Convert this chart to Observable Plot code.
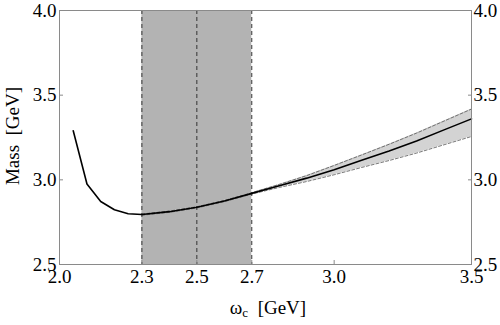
<!DOCTYPE html>
<html><head><meta charset="utf-8">
<script src="https://cdn.jsdelivr.net/npm/d3@7"></script>
<script src="https://cdn.jsdelivr.net/npm/@observablehq/plot@0.6"></script>
<style>html,body{margin:0;padding:0;background:#fff}</style>
</head><body><div id="chart"></div>
<script>
// Central curve
const omega = [2.05, 2.1, 2.15, 2.2, 2.25, 2.3, 2.4, 2.5, 2.6, 2.7, 2.8, 2.9, 3.0, 3.1, 3.2, 3.3, 3.4, 3.5];
const mass  = [3.29, 2.975, 2.872, 2.823, 2.80, 2.795, 2.812, 2.838, 2.875, 2.92, 2.965, 3.01, 3.06, 3.115, 3.17, 3.23, 3.295, 3.36];
// Uncertainty band
const bandOmega = [2.3, 2.4, 2.5, 2.6, 2.7, 2.8, 2.9, 3.0, 3.1, 3.2, 3.3, 3.4, 3.5];
const bandUpper = [2.799, 2.816, 2.842, 2.879, 2.924, 2.973, 3.025, 3.085, 3.147, 3.21, 3.276, 3.347, 3.418];
const bandLower = [2.791, 2.808, 2.834, 2.871, 2.916, 2.955, 2.99, 3.03, 3.073, 3.114, 3.158, 3.207, 3.256];
// Working window
const windowEdges = [2.3, 2.7];
const windowLines = [2.3, 2.5, 2.7];
// Axes
const xTicks = [2.0, 2.3, 2.5, 2.7, 3.0, 3.5];
const yTicks = [2.5, 3.0, 3.5, 4.0];
const xDomain = [2.0, 3.5];
const yDomain = [2.5, 4.0];
const xLabelMain = "ω";
const xLabelSub = "c";
const xLabelUnit = "\u00a0\u00a0[GeV]";
const yLabel = "Mass\u00a0\u00a0[GeV]";

const curve = omega.map((x, i) => ({x, y: mass[i]}));
const band = bandOmega.map((x, i) => ({x, lo: bandLower[i], hi: bandUpper[i]}));
const fmt = d => d.toFixed(1);
const FONT = "'Liberation Serif', 'Times New Roman', serif";

const chart = Plot.plot({
  width: 500, height: 325,
  marginLeft: 59, marginRight: 29, marginTop: 10, marginBottom: 61,
  style: {fontFamily: FONT, fontSize: "19px", background: "#fff", color: "#000"},
  x: {domain: xDomain},
  y: {domain: yDomain},
  marks: [
    Plot.rect([{x1: windowEdges[0], x2: windowEdges[1]}], {x1: "x1", x2: "x2", fill: "#b3b3b3"}),
    Plot.areaY(band, {x: "x", y1: "lo", y2: "hi", fill: "#d3d3d3"}),
    Plot.line(band, {x: "x", y: "hi", stroke: "#555", strokeWidth: 0.8, strokeDasharray: "3,2"}),
    Plot.line(band, {x: "x", y: "lo", stroke: "#555", strokeWidth: 0.8, strokeDasharray: "3,2"}),
    Plot.ruleX(windowLines, {stroke: "#333", strokeWidth: 1, strokeDasharray: "4,3"}),
    Plot.line(curve, {x: "x", y: "y", stroke: "#000", strokeWidth: 1.6}),
    Plot.frame({stroke: "#8a8a8a"}),
    Plot.axisX(xTicks, {anchor: "bottom", tickSize: -4, tickPadding: 9, stroke: "#8a8a8a", fill: "#000", fontSize: 19, tickFormat: fmt, label: null}),
    Plot.axisY(yTicks, {anchor: "left", tickSize: -4, tickPadding: 7, stroke: "#8a8a8a", fill: "#000", fontSize: 19, tickFormat: fmt, label: null}),
    Plot.axisY(yTicks, {anchor: "right", tickSize: -4, tickPadding: 6, stroke: "#8a8a8a", fill: "#000", fontSize: 19, tickFormat: fmt, label: null})
  ]
});

const svg = d3.select(chart);
const xl = svg.append("text")
  .attr("x", 268).attr("y", 314)
  .attr("text-anchor", "middle")
  .attr("font-family", FONT).attr("font-size", 19).attr("fill", "#000");
xl.append("tspan").text(xLabelMain);
xl.append("tspan").attr("font-size", 13).attr("dy", 3).text(xLabelSub);
xl.append("tspan").attr("dy", -3).text(xLabelUnit);

svg.append("text")
  .attr("transform", "translate(19,136) rotate(-90)")
  .attr("text-anchor", "middle")
  .attr("font-family", FONT).attr("font-size", 19).attr("fill", "#000")
  .text(yLabel);

document.getElementById("chart").appendChild(chart);
</script>
</body></html>
